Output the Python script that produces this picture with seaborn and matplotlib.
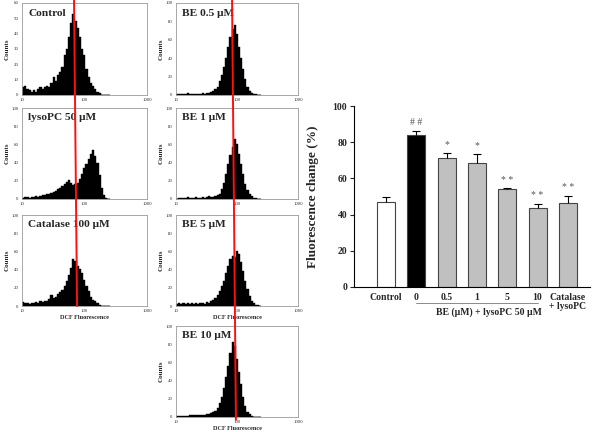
import numpy as np
import matplotlib
matplotlib.use('Agg')
import matplotlib.pyplot as plt
from matplotlib.lines import Line2D
from matplotlib.transforms import blended_transform_factory
import seaborn as sns

sns.set_style('white')
plt.rcParams['font.family'] = ['Liberation Serif', 'DejaVu Serif']

# flow cytometry counts, 40 log bins from 10^1.0 to 10^2.4
control = [5, 6, 4, 3, 2, 3, 2, 4, 5, 4, 5, 6, 5, 8, 12, 9, 13, 15, 18, 26,
           30, 38, 47, 53, 48, 44, 38, 30, 26, 17, 12, 8, 6, 4, 2, 1, 0, 0, 0, 0]
lysopc = [1, 2, 2, 1, 2, 2, 3, 2, 3, 4, 4, 5, 6, 7, 8, 9, 11, 12, 14, 17,
          19, 21, 18, 15, 16, 18, 22, 28, 34, 38, 44, 50, 54, 47, 40, 26, 12, 4, 1, 0]
catalase = [4, 3, 3, 2, 3, 3, 4, 3, 5, 4, 6, 5, 8, 12, 9, 10, 13, 15, 18, 22,
            28, 34, 42, 52, 49, 44, 41, 36, 29, 22, 16, 10, 7, 5, 3, 1, 0, 0, 0, 0]
be_05 = [1, 1, 1, 1, 1, 2, 1, 1, 1, 1, 1, 1, 2, 1, 2, 2, 3, 4, 6, 9,
         15, 22, 30, 40, 52, 63, 72, 76, 66, 52, 40, 28, 17, 9, 4, 2, 1, 1, 0, 0]
be_1 = [0, 1, 1, 1, 1, 2, 1, 1, 1, 2, 1, 1, 2, 1, 2, 3, 2, 2, 3, 4,
        6, 11, 18, 28, 38, 48, 57, 66, 60, 50, 38, 27, 17, 10, 5, 3, 1, 1, 0, 0]
be_5 = [2, 3, 2, 3, 2, 3, 2, 3, 2, 3, 2, 3, 3, 2, 4, 3, 5, 7, 9, 12,
        16, 22, 28, 36, 44, 52, 55, 54, 60, 57, 48, 38, 28, 19, 11, 6, 3, 1, 1, 0]
be_10 = [1, 1, 1, 1, 1, 1, 2, 2, 2, 2, 2, 2, 2, 2, 3, 3, 4, 5, 7, 10,
         15, 22, 32, 44, 56, 70, 82, 78, 64, 50, 36, 22, 12, 6, 3, 1, 0, 0, 0, 0]

hist_titles = ['Control', 'lysoPC 50 \u03bcM', 'Catalase 100 \u03bcM',
               'BE 0.5 \u03bcM', 'BE 1 \u03bcM', 'BE 5 \u03bcM', 'BE 10 \u03bcM']
hist_counts = [control, lysopc, catalase, be_05, be_1, be_5, be_10]
hist_ymax = [60, 100, 100, 100, 100, 100, 100]

# red marker line (DCF value) at top and bottom of each column
red_left = [68, 76]
red_right = [83, 96]

# bar chart
groups = ['Control', '0', '0.5', '1', '5', '10', 'Catalase\n+ lysoPC']
fluor = [47.2, 84.0, 71.4, 68.6, 54.0, 43.5, 46.2]
sem = [2.7, 2.4, 2.8, 5.0, 0.5, 2.6, 4.1]
marks = ['', '# #', '*', '*', '* *', '* *', '* *']
bar_colors = ['white', 'black', '#c0c0c0', '#c0c0c0', '#c0c0c0', '#c0c0c0', '#c0c0c0']

fig = plt.figure(figsize=(6, 4.32), dpi=100)

col_left = [22 / 600, 176 / 600]
col_width = [125 / 600, 122 / 600]
rows = [(3, 95), (108, 199), (215, 306), (326, 417)]
slots = [(0, 0), (0, 1), (0, 2), (1, 0), (1, 1), (1, 2), (1, 3)]

log_edges = np.linspace(1.0, 2.4, 41)
centers = 10 ** ((log_edges[:-1] + log_edges[1:]) / 2)

hist_axes = []
for title, counts, ymax, (c, r) in zip(hist_titles, hist_counts, hist_ymax, slots):
    top, bot = rows[r]
    ax = fig.add_axes([col_left[c], 1 - bot / 432, col_width[c], (bot - top) / 432])
    sns.histplot(x=centers, weights=counts, bins=40, binrange=(1.0, 2.4), log_scale=True,
                 element='step', fill=True, color='black', alpha=1, linewidth=0.3, ax=ax)
    ax.set_xlim(10, 1000)
    ax.set_ylim(0, ymax)
    ax.set_xticks([10, 100, 1000], labels=['10', '100', '1000'])
    ax.set_yticks(np.arange(0, ymax + 1, 10 if ymax == 60 else 20))
    ax.tick_params(axis='both', labelsize=3.5, length=1.5, width=0.4, pad=1, colors='#333333')
    ax.tick_params(axis='x', which='minor', length=1, width=0.3, colors='#888888')
    for s in ax.spines.values():
        s.set_color('#9a9a9a')
        s.set_linewidth(0.6)
    ax.set_ylabel('Counts', fontsize=5, fontweight='bold')
    ax.yaxis.set_label_coords(-0.1, 0.5)
    if (c, r) in [(0, 2), (1, 2), (1, 3)]:
        ax.set_xlabel('DCF Fluorescence', fontsize=4.5, fontweight='bold', labelpad=1)
    else:
        ax.set_xlabel('')
    ax.text(0.05, 0.94, title, transform=ax.transAxes, fontsize=8.2,
            fontweight='bold', va='top', ha='left')
    hist_axes.append(ax)


def fig_x(ax, value):
    return fig.transFigure.inverted().transform(ax.transData.transform((value, 0)))[0]


fig.canvas.draw()
ax_l = hist_axes[0]
ax_r = hist_axes[3]
fig.add_artist(Line2D([fig_x(ax_l, red_left[0]), fig_x(ax_l, red_left[1])],
                      [1.0, 1 - 306 / 432], color='#ff1010', lw=1.4))
fig.add_artist(Line2D([fig_x(ax_r, red_right[0]), fig_x(ax_r, red_right[1])],
                      [1.0, 1 - 420 / 432], color='#ff1010', lw=1.4))

# bar chart of fluorescence change
ax = fig.add_axes([354 / 600, 1 - 287 / 432, 236 / 600, 181 / 432])
sns.barplot(x=groups, y=fluor, hue=groups, palette=bar_colors, legend=False,
            width=0.6, edgecolor='#444444', linewidth=0.8, errorbar=None, ax=ax)
xs = np.arange(len(groups))
tops = np.array(fluor) + np.array(sem)
ax.vlines(xs, fluor, tops, color='black', lw=0.8)
ax.hlines(tops, xs - 0.13, xs + 0.13, color='black', lw=0.8)
for x, t, m in zip(xs, tops, marks):
    ax.text(x, t + 2, m, ha='center', va='bottom', fontsize=7, color='#555555')
ax.set_xlim(-1.06, 6.73)
ax.set_ylim(0, 100)
ax.set_yticks([0, 20, 40, 60, 80, 100])
ax.tick_params(axis='y', labelsize=7, length=3, width=0.8, direction='out', left=True, pad=2)
ax.tick_params(axis='x', labelsize=7, length=0, pad=4)
for lab in ax.get_xticklabels() + ax.get_yticklabels():
    lab.set_fontweight('bold')
ax.set_xticklabels(groups, linespacing=1.1)
sns.despine(ax=ax)
ax.spines['left'].set_color('black')
ax.spines['bottom'].set_color('black')
ax.spines['left'].set_linewidth(0.8)
ax.spines['bottom'].set_linewidth(0.8)
ax.set_ylabel('Fluorescence change (%)', fontsize=9.5, fontweight='bold', labelpad=10)
ax.set_xlabel('')

trans = blended_transform_factory(ax.transData, ax.transAxes)
ax.add_line(Line2D([1, 5], [-0.088, -0.088], transform=trans, color='#777777',
                   lw=0.6, clip_on=False))
ax.text(3.4, -0.11, 'BE (\u03bcM) + lysoPC 50 \u03bcM', transform=trans, ha='center',
        va='top', fontsize=7, fontweight='bold')

fig.savefig('out.png', dpi=100)
